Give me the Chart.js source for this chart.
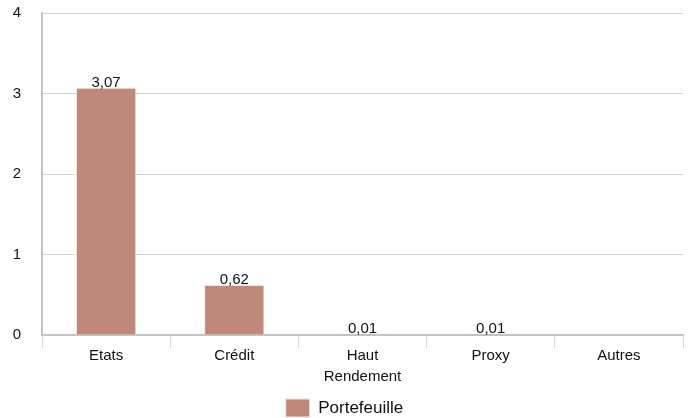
<!DOCTYPE html>
<html>
<head>
<meta charset="utf-8">
<script src="https://cdn.jsdelivr.net/npm/chart.js@4/dist/chart.umd.min.js"></script>
<style>
  html, body { margin: 0; padding: 0; background: #fff; }
  #wrap { width: 693px; height: 418px; }
</style>
</head>
<body>
<div id="wrap"><canvas id="c"></canvas></div>
<script>
const categories = ['Etats', 'Crédit', ['Haut', 'Rendement'], 'Proxy', 'Autres'];
const portefeuille = [3.07, 0.62, 0.01, 0.01, null];
const yTicks = [0, 1, 2, 3, 4];

const FONT = '"Liberation Sans", Arial, sans-serif';
const fmt = v => v.toFixed(2).replace('.', ',');

// Value labels drawn above each bar
const valueLabels = {
  id: 'valueLabels',
  afterDatasetsDraw(chart) {
    const ctx = chart.ctx;
    const meta = chart.getDatasetMeta(0);
    ctx.save();
    ctx.font = '15px ' + FONT;
    ctx.fillStyle = '#111';
    ctx.textAlign = 'center';
    ctx.textBaseline = 'alphabetic';
    meta.data.forEach((bar, i) => {
      const v = portefeuille[i];
      if (v === null || v === undefined) return;
      ctx.fillText(fmt(v), bar.x, bar.y - 1);
    });
    ctx.restore();
  }
};

new Chart(document.getElementById('c'), {
  type: 'bar',
  data: {
    labels: categories,
    datasets: [{
      label: 'Portefeuille',
      data: portefeuille,
      backgroundColor: '#c08878',
      borderColor: '#f3e6e2',
      borderWidth: 1,
      categoryPercentage: 0.96,
      barPercentage: 0.49
    }]
  },
  options: {
    responsive: true,
    maintainAspectRatio: false,
    animation: false,
    layout: { padding: { top: 13, right: 10, left: 6, bottom: -9 } },
    plugins: {
      legend: {
        position: 'bottom',
        labels: {
          boxWidth: 24,
          boxHeight: 18,
          color: '#111',
          padding: 1,
          font: { family: FONT, size: 17 }
        }
      },
      tooltip: { enabled: false }
    },
    scales: {
      x: {
        afterFit(scale) { scale.height = 63; },
        grid: {
          drawOnChartArea: false,
          drawTicks: true,
          tickLength: 13,
          color: '#cbd6ec',
          offset: true
        },
        border: { color: '#c4c4c4', width: 2 },
        ticks: {
          color: '#111',
          padding: -3,
          maxRotation: 0,
          font: { family: FONT, size: 15, lineHeight: 1.4 }
        }
      },
      y: {
        min: 0,
        max: 4,
        afterBuildTicks(scale) { scale.ticks = yTicks.map(v => ({ value: v })); },
        afterFit(scale) {
          scale.width = 36;
          scale.paddingTop = 0;
          scale.paddingBottom = 0;
        },
        grid: { color: '#d2d2d2', lineWidth: 1, drawTicks: false },
        border: { color: '#c4c4c4', width: 2 },
        ticks: {
          color: '#111',
          padding: 21,
          font: { family: FONT, size: 15 },
          callback: v => String(v)
        }
      }
    }
  },
  plugins: [valueLabels]
});
</script>
</body>
</html>
